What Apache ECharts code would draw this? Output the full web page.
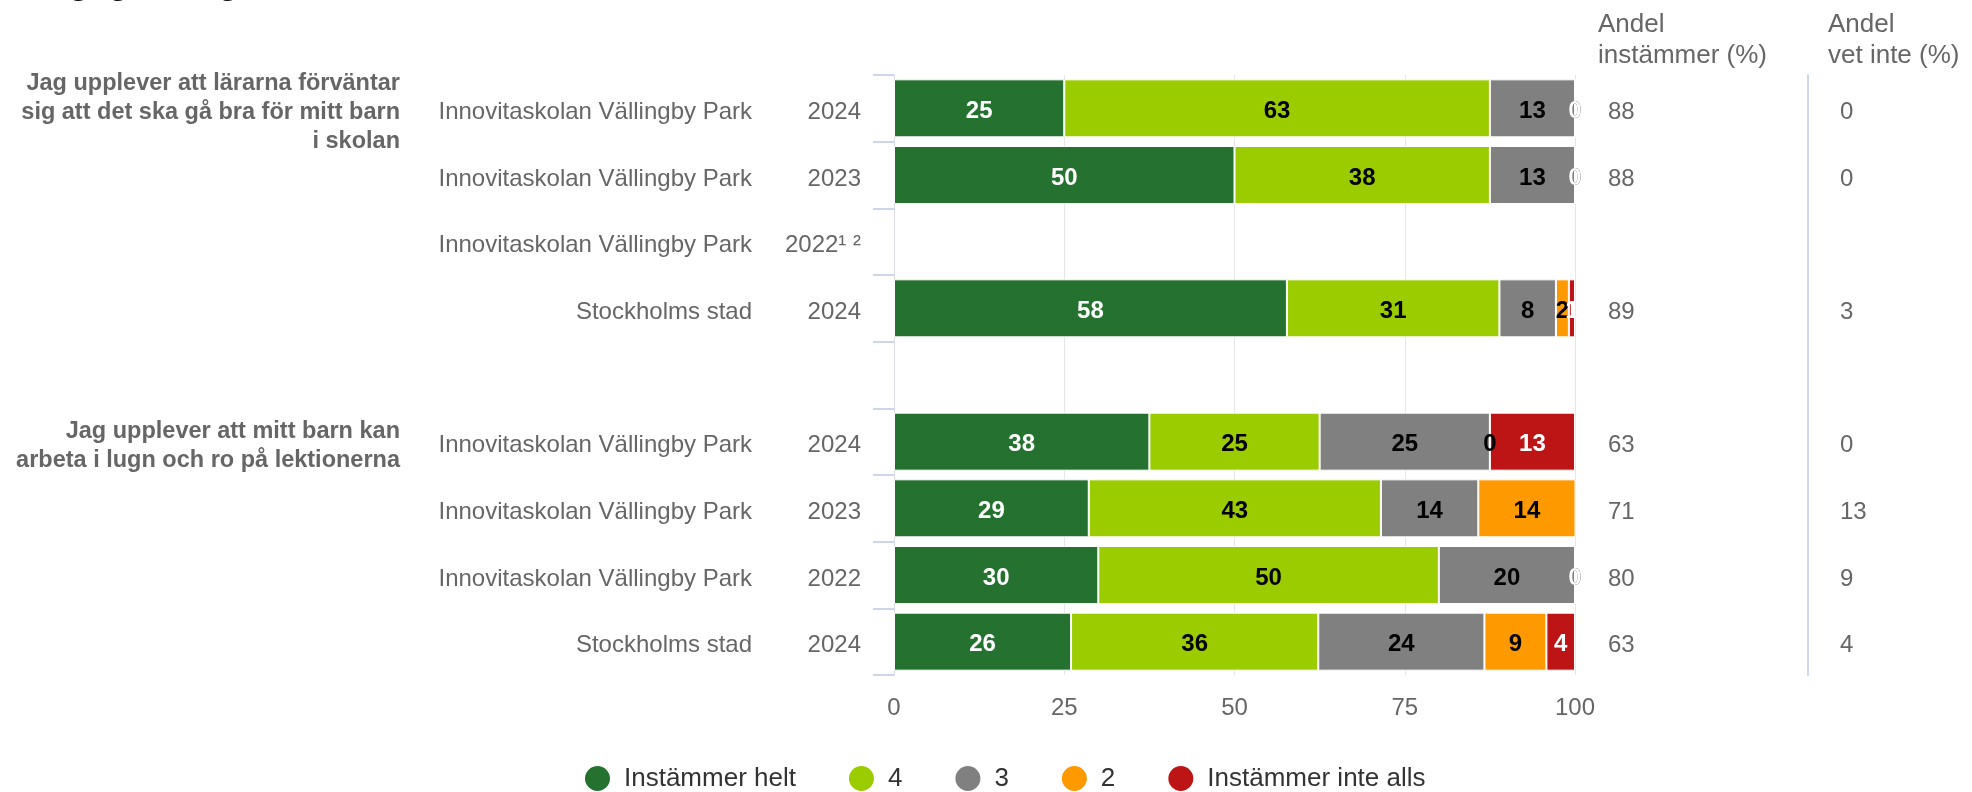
<!DOCTYPE html>
<html><head><meta charset="utf-8">
<script src="https://cdn.jsdelivr.net/npm/echarts@6/dist/echarts.min.js"></script>
<style>html,body{margin:0;padding:0;background:#fff}#c{width:1972px;height:792px}</style>
</head><body><div id="c"></div>
<script>
// ---- data ----
const schools = ['Innovitaskolan Vällingby Park','Innovitaskolan Vällingby Park','Innovitaskolan Vällingby Park','Stockholms stad','','Innovitaskolan Vällingby Park','Innovitaskolan Vällingby Park','Innovitaskolan Vällingby Park','Stockholms stad'];
const years = ['2024','2023','2022¹ ²','2024','','2024','2023','2022','2024'];
const groups = ['Jag upplever att lärarna förväntar\nsig att det ska gå bra för mitt barn\ni skolan','','','','','Jag upplever att mitt barn kan\narbeta i lugn och ro på lektionerna','','',''];
const seriesNames = ['Instämmer helt','4','3','2','Instämmer inte alls'];
const helt = [25, 50, null, 57.7, null, 37.5, 28.6, 30, 26];
const fyra = [62.5, 37.5, null, 31.2, null, 25, 42.9, 50, 36.3];
const tre  = [12.5, 12.5, null, 8.3, null, 25, 14.3, 20, 24.4];
const tva  = [0, 0, null, 1.9, null, 0, 14.3, 0, 9.1];
const inte = [0, 0, null, 0.9, null, 12.5, 0, 0, 4.2];
const andelInstammer = ['88','88','','89','','63','71','80','63'];
const andelVetInte = ['0','0','','3','','0','13','9','4'];
const xTicks = [0, 25, 50, 75, 100];
const chartTitle = 'Engagemang';
const colHeaders = ['Andel\ninstämmer (%)', 'Andel\nvet inte (%)'];

// ---- styling ----
const seriesData = [helt, fyra, tre, tva, inte];
const seriesColors = ['#257230', '#9acc00', '#808080', '#ff9900', '#bd1515'];
const labelColors = ['#ffffff', '#000000', '#000000', '#000000', '#ffffff'];
const FONT = '"Liberation Sans", Arial, Helvetica, sans-serif';
const cats = schools.map((_, i) => String(i));

const chart = echarts.init(document.getElementById('c'));
chart.setOption({
  animation: false,
  textStyle: { fontFamily: FONT },
  grid: { left: 894, right: 397, top: 75, bottom: 117, containLabel: false },
  xAxis: {
    type: 'value', min: xTicks[0], max: xTicks[xTicks.length - 1], interval: 25,
    axisLine: { show: false }, axisTick: { show: false },
    splitLine: { show: true, lineStyle: { color: '#e6e6e6', width: 1 } },
    axisLabel: { color: '#666666', fontSize: 24, margin: 21, fontFamily: FONT }
  },
  yAxis: [
    {
      type: 'category', data: cats, inverse: true, position: 'left',
      axisLine: { show: true, lineStyle: { color: '#dcdce6', width: 1 } },
      axisTick: { show: true, length: 21, lineStyle: { color: '#ccd6eb', width: 2 } },
      axisLabel: {
        interval: 0, margin: 33, align: 'right', color: '#666666', fontSize: 24, fontFamily: FONT,
        formatter: (v, i) => schools[i] ? `{s|${schools[i]}}{y|${years[i]}}` : '',
        rich: {
          s: { width: 420, align: 'right', color: '#666666', fontSize: 24, fontFamily: FONT, padding: [8, 0, 0, 0] },
          y: { width: 109, align: 'right', color: '#666666', fontSize: 24, fontFamily: FONT, padding: [8, 0, 0, 0] }
        }
      }
    },
    {
      type: 'category', data: cats, inverse: true, position: 'left',
      axisLine: { show: false }, axisTick: { show: false },
      axisLabel: {
        interval: 0, margin: 494, align: 'right', color: '#666666', fontFamily: FONT,
        formatter: (v, i) => groups[i] ? `{sp| }\n{g|${groups[i]}}` : '',
        rich: {
          sp: { fontSize: 1, lineHeight: 8, align: 'right' },
          g: { fontSize: 23.5, fontWeight: 'bold', lineHeight: 29, color: '#666666', fontFamily: FONT, align: 'right' }
        }
      }
    },
    {
      type: 'category', data: cats, inverse: true, position: 'right',
      axisLine: { show: false }, axisTick: { show: false },
      axisLabel: {
        interval: 0, margin: 33, align: 'left', color: '#666666', fontSize: 24, fontFamily: FONT,
        formatter: (v, i) => andelInstammer[i] === '' ? '' : `{a|${andelInstammer[i]}}{b|${andelVetInte[i]}}`,
        rich: {
          a: { width: 232, align: 'left', color: '#666666', fontSize: 24, fontFamily: FONT, padding: [8, 0, 0, 0] },
          b: { align: 'left', color: '#666666', fontSize: 24, fontFamily: FONT, padding: [8, 0, 0, 0] }
        }
      }
    },
    {
      type: 'category', data: cats, inverse: true, position: 'right', offset: 233,
      axisLine: { show: true, lineStyle: { color: '#cdd8ee', width: 2 } },
      axisTick: { show: false }, axisLabel: { show: false }
    }
  ],
  legend: {
    data: seriesNames, left: 578, top: 759, icon: 'circle',
    itemWidth: 27, itemHeight: 27, itemGap: 51,
    textStyle: { fontSize: 26, color: '#333333', fontFamily: FONT, padding: [0, 0, 0, 8] }
  },
  graphic: [
    { type: 'text', left: 25, top: -32, style: { text: chartTitle, fontSize: 34, fontWeight: 'bold', fontFamily: FONT, fill: '#000' } },
    { type: 'text', left: 1598, top: 9, style: { text: colHeaders[0], fontSize: 26, fontFamily: FONT, fill: '#666666', lineHeight: 31 } },
    { type: 'text', left: 1828, top: 9, style: { text: colHeaders[1], fontSize: 26, fontFamily: FONT, fill: '#666666', lineHeight: 31 } }
  ],
  series: seriesNames.map((name, k) => ({
    name, type: 'bar', stack: 'total', yAxisIndex: 0,
    barCategoryGap: '13%',
    data: seriesData[k],
    itemStyle: { color: seriesColors[k], borderColor: '#ffffff', borderWidth: 1 },
    label: {
      show: true, position: 'inside', color: labelColors[k], fontSize: 24, fontWeight: 'bold',
      fontFamily: FONT, offset: [0, 3], formatter: p => Math.round(p.value)
    }
  }))
});
</script>
</body></html>
